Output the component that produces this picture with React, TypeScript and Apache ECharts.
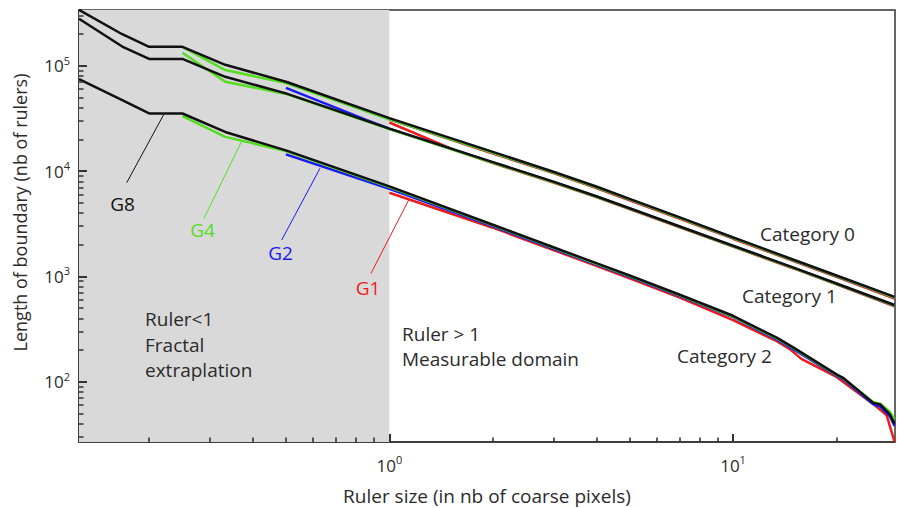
import React, { useEffect, useRef } from "react";
import * as echarts from "echarts";

// ---- Data: [ruler size, length of boundary] ----
const cat0G8 = [[0.125, 339000], [0.167, 199000], [0.2, 151000], [0.25, 151000], [0.333, 102000], [0.5, 70500], [1, 31800], [2, 15200], [3, 9860], [4, 7140], [5, 5450], [7, 3630], [10, 2350], [15, 1440], [20, 1020], [29.5, 640]];
const cat0G4 = [[0.25, 151000], [0.333, 91000], [0.5, 68500], [1, 31000], [2, 14900], [3, 9700], [4, 7020], [5, 5380], [7, 3580], [10, 2320], [15, 1420], [20, 1005], [29.5, 630]];
const cat0G2 = [[0.5, 70000], [1, 31200], [2, 14950], [3, 9720], [4, 7040], [5, 5390], [7, 3590], [10, 2330], [15, 1425], [20, 1010], [29.5, 632]];
const cat0G1 = [[1, 31000], [2, 14700], [3, 9550], [4, 6900], [5, 5280], [7, 3520], [10, 2280], [15, 1400], [20, 990], [29.5, 615]];

const cat1G8 = [[0.125, 279000], [0.167, 152000], [0.2, 116000], [0.25, 116000], [0.333, 78500], [0.5, 54600], [1, 25300], [2, 12160], [3, 7930], [4, 5770], [5, 4440], [7, 2980], [10, 1955], [15, 1212], [20, 857], [29.5, 535]];
const cat1G4 = [[0.25, 133000], [0.333, 70500], [0.5, 54000], [1, 25000], [2, 12000], [3, 7850], [4, 5710], [5, 4400], [7, 2950], [10, 1935], [15, 1200], [20, 848], [29.5, 528]];
const cat1G2 = [[0.5, 61600], [0.86, 30500], [1, 25200], [2, 12100], [3, 7900], [4, 5740], [5, 4420], [7, 2965], [10, 1945], [15, 1205], [20, 852], [29.5, 530]];
const cat1G1 = [[1, 28900], [1.55, 15800], [2, 11900], [3, 7780], [4, 5650], [5, 4350], [7, 2920], [10, 1915], [15, 1190], [20, 840], [29.5, 520]];

const cat2G8 = [[0.125, 74700], [0.167, 47100], [0.2, 35200], [0.25, 35200], [0.333, 23500], [0.5, 15700], [1, 7150], [2, 3090], [3, 1890], [4, 1336], [5, 1021], [7, 670], [10, 423], [13.4, 262], [15, 211], [20, 117.5], [20.9, 109], [25.6, 63], [26.8, 61], [28.6, 49], [29.5, 40]];
const cat2G4 = [[0.25, 33200], [0.333, 21100], [0.5, 15500], [1, 7050], [2, 3050], [3, 1865], [4, 1318], [5, 1008], [7, 660], [10, 416], [13.4, 258], [15, 208], [20, 116], [20.9, 108], [25.6, 64], [26.8, 62], [28.6, 52], [29.5, 44]];
const cat2G2 = [[0.5, 14400], [1, 6800], [2, 2990], [3, 1830], [4, 1295], [5, 990], [7, 650], [10, 410], [13.4, 252], [15, 203], [20, 114], [20.9, 106], [25.6, 61], [26.8, 58], [28.6, 47], [29.5, 38]];
const cat2G1 = [[1, 6220], [2, 2900], [3, 1780], [4, 1260], [5, 960], [7, 628], [10, 385], [13.4, 243], [14.6, 205], [15.8, 165], [20, 111], [25.5, 62], [28, 48], [29.5, 27]];

// ---- Axes ----
const xRange = [0.125, 29.6];
const yRange = [26.8, 338000];
const xMajorTicks = [1, 10];
const yMajorTicks = [100, 1000, 10000, 100000];
const xMinorTicks = [0.2, 0.3, 0.4, 0.5, 0.6, 0.7, 0.8, 0.9, 2, 3, 4, 5, 6, 7, 8, 9, 20];
const yMinorTicks = [30, 40, 50, 60, 70, 80, 90, 200, 300, 400, 500, 600, 700, 800, 900, 2000, 3000, 4000, 5000, 6000, 7000, 8000, 9000, 20000, 30000, 40000, 50000, 60000, 70000, 80000, 90000, 200000, 300000];
const shadedRange = [0.125, 1];

const COLORS = { G8: "#111111", G4: "#55dd22", G2: "#1a1aee", G1: "#ee1c1c" };
const FONT = "Open Sans";
const TEXT = "#2b2b2b";
const AXIS = "#333333";

const GRID = { left: 79, right: 2, top: 10, bottom: 66 };
const W = 897;
const H = 508;

const L = (v: number) => Math.log10(v);
const toLog = (arr: number[][]) => arr.map(([x, y]) => [L(x), L(y)]);

export default function App() {
  const ref = useRef<HTMLDivElement>(null);
  useEffect(() => {
    if (!ref.current) return;
    const chart = echarts.init(ref.current, undefined, { renderer: "svg" });

    const mkLine = (name: string, data: number[][], color: string, z: number) => ({
      type: "line",
      name,
      data: toLog(data),
      showSymbol: false,
      symbol: "none",
      lineStyle: { color, width: 2.5 },
      z,
      silent: true,
    });

    const series: any[] = [
      mkLine("c0g1", cat0G1, COLORS.G1, 2),
      mkLine("c1g1", cat1G1, COLORS.G1, 2),
      mkLine("c2g1", cat2G1, COLORS.G1, 2),
      mkLine("c0g2", cat0G2, COLORS.G2, 3),
      mkLine("c1g2", cat1G2, COLORS.G2, 3),
      mkLine("c2g2", cat2G2, COLORS.G2, 3),
      mkLine("c0g4", cat0G4, COLORS.G4, 4),
      mkLine("c1g4", cat1G4, COLORS.G4, 4),
      mkLine("c2g4", cat2G4, COLORS.G4, 4),
      mkLine("c0g8", cat0G8, COLORS.G8, 5),
      mkLine("c1g8", cat1G8, COLORS.G8, 5),
      mkLine("c2g8", cat2G8, COLORS.G8, 5),
    ];
    series[0].markArea = {
      silent: true,
      itemStyle: { color: "#d9d9d9" },
      data: [[{ xAxis: L(shadedRange[0]) }, { xAxis: L(shadedRange[1]) }]],
    };

    // inside tick marks as "lines" series in data space (pixel length -> axis units)
    const xSpan = L(xRange[1]) - L(xRange[0]);
    const ySpan = L(yRange[1]) - L(yRange[0]);
    const pxX = xSpan / (W - GRID.left - GRID.right);
    const pxY = ySpan / (H - GRID.top - GRID.bottom);
    const yb = L(yRange[0]);
    const xl = L(xRange[0]);
    const majorTicks = [
      ...xMajorTicks.map((v) => ({ coords: [[L(v), yb], [L(v), yb + 8 * pxY]] })),
      ...yMajorTicks.map((v) => ({ coords: [[xl, L(v)], [xl + 8 * pxX, L(v)]] })),
    ];
    const minorTicks = [
      ...xMinorTicks.map((v) => ({ coords: [[L(v), yb], [L(v), yb + 4.5 * pxY]] })),
      ...yMinorTicks.map((v) => ({ coords: [[xl, L(v)], [xl + 4.5 * pxX, L(v)]] })),
    ];
    series.push({
      type: "lines",
      coordinateSystem: "cartesian2d",
      silent: true,
      z: 20,
      lineStyle: { color: AXIS, width: 2, opacity: 1 },
      data: majorTicks,
    });
    series.push({
      type: "lines",
      coordinateSystem: "cartesian2d",
      silent: true,
      z: 20,
      lineStyle: { color: AXIS, width: 1.6, opacity: 1 },
      data: minorTicks,
    });

    const labelFmt = (v: number) => `{b|10}{sup|${Math.round(v)}}`;
    const rich = {
      b: { fontSize: 17, lineHeight: 22, fontFamily: FONT, color: TEXT },
      sup: { fontSize: 11, lineHeight: 11, verticalAlign: "top", fontFamily: FONT, color: TEXT },
    };

    const text = (t: string, x: number, y: number, color = TEXT, align = "left", size = 19) => ({
      type: "text",
      x,
      y,
      silent: true,
      z: 100,
      style: { text: t, fill: color, font: `${size}px "${FONT}"`, textAlign: align, textVerticalAlign: "middle" },
    });
    const lead = (x1: number, y1: number, x2: number, y2: number, color: string) => ({
      type: "line",
      silent: true,
      z: 100,
      shape: { x1, y1, x2, y2 },
      style: { stroke: color, lineWidth: 1 },
    });

    chart.setOption({
      animation: false,
      backgroundColor: "#ffffff",
      grid: { ...GRID, show: true, borderColor: "#333", borderWidth: 1.5, containLabel: false, outerBoundsMode: "none" },
      xAxis: {
        type: "value",
        min: L(xRange[0]),
        max: L(xRange[1]),
        position: "bottom",
        axisLine: { onZero: false, lineStyle: { color: AXIS, width: 1.5 } },
        axisTick: { show: false },
        axisLabel: { customValues: xMajorTicks.map(L), formatter: labelFmt, rich, fontSize: 17, lineHeight: 22, color: TEXT, fontFamily: FONT, margin: 12 },
        splitLine: { show: false },
        name: "Ruler size (in nb of coarse pixels)",
        nameLocation: "middle",
        nameGap: 44,
        nameTextStyle: { fontSize: 19, color: TEXT, fontFamily: FONT },
      },
      yAxis: {
        type: "value",
        min: L(yRange[0]),
        max: L(yRange[1]),
        position: "left",
        axisLine: { onZero: false, lineStyle: { color: AXIS, width: 1.5 } },
        axisTick: { show: false },
        axisLabel: { customValues: yMajorTicks.map(L), formatter: labelFmt, rich, fontSize: 17, lineHeight: 22, color: TEXT, fontFamily: FONT, margin: 9 },
        splitLine: { show: false },
      },
      series,
      graphic: [
        {
          type: "text",
          x: 20,
          y: 212.5,
          rotation: Math.PI / 2,
          silent: true,
          style: { text: "Length of boundary (nb of rulers)", fill: TEXT, font: `18px "${FONT}"`, textAlign: "center", textVerticalAlign: "middle" },
        },
        lead(126.7, 182.7, 164, 114, COLORS.G8),
        lead(204, 218.3, 242.3, 140, COLORS.G4),
        lead(281.7, 240, 320, 168.3, COLORS.G2),
        lead(371, 273.3, 408.7, 200, COLORS.G1),
        text("G8", 122.5, 204, "#111111", "center"),
        text("G4", 202.5, 230, COLORS.G4, "center"),
        text("G2", 280.5, 253, COLORS.G2, "center"),
        text("G1", 368, 288, COLORS.G1, "center"),
        text("Ruler<1", 145, 319),
        text("Fractal", 145, 345),
        text("extraplation", 145, 370),
        text("Ruler > 1", 402, 334),
        text("Measurable domain", 402, 359),
        text("Category 0", 760, 234),
        text("Category 1", 742, 296),
        text("Category 2", 677, 356),
      ],
    });

    return () => chart.dispose();
  }, []);
  return <div ref={ref} style={{ position: "fixed", left: 0, top: 0, width: W, height: H }} />;
}
